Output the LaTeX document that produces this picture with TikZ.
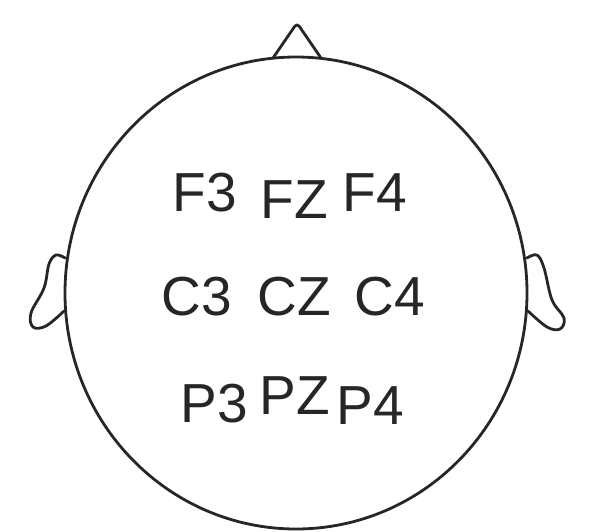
\documentclass[tikz,border=0pt]{standalone}
\usepackage{fontspec}
\setmainfont{Liberation Sans}
\begin{document}
\begin{tikzpicture}[x=1pt,y=-1pt,
  outline/.style={line width=2.8pt,line join=round,line cap=round,black!85},
  elec/.style={font=\fontsize{55}{60}\selectfont,inner sep=0pt,text=black!85}]
\useasboundingbox (0,0) rectangle (610,531);
% head
\coordinate (hc) at (296,293);
\draw[outline] (hc) ellipse [x radius=231, y radius=236];
% nose
\coordinate (nl) at (273,58);
\coordinate (nt) at (297,23);
\coordinate (nr) at (321,58);
\draw[outline,rounded corners=4pt] (nl) -- (nt) -- (nr);
% left ear
\draw[outline] plot[smooth,tension=0.6] coordinates {(65,258) (56,255) (49,264) (44,288) (31,313) (33,327) (46,326) (64,311)};
% right ear
\draw[outline] plot[smooth,tension=0.6] coordinates {(527,258) (537,255) (544,268) (552,300) (564,318) (560,329) (547,327) (528,311)};
% electrodes
\node[elec] (F3) at (205,193) {F3};
\node[elec] (FZ) at (294,200) {FZ};
\node[elec] (F4) at (375,193) {F4};
\node[elec] (C3) at (197,297) {C3};
\node[elec] (CZ) at (294,297) {CZ};
\node[elec] (C4) at (390,297) {C4};
\node[elec] (P3) at (214,404) {P3};
\node[elec] (PZ) at (295,396) {PZ};
\node[elec] (P4) at (370,406) {P4};
\end{tikzpicture}
\end{document}
